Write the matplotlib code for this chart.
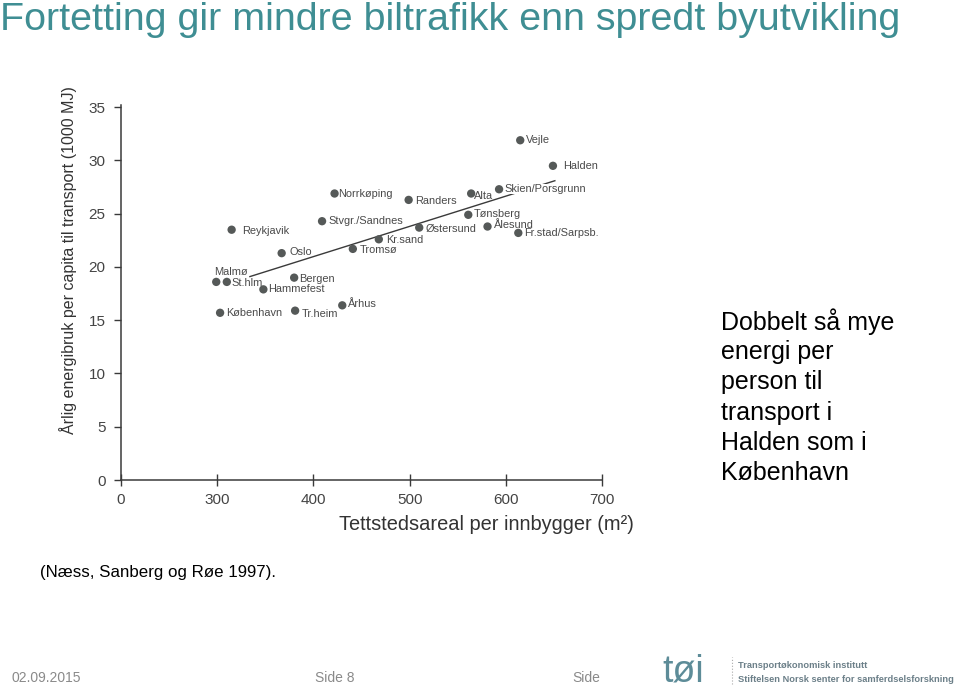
import matplotlib
matplotlib.use('Agg')
import matplotlib.pyplot as plt

plt.rcParams['font.family'] = ['Liberation Sans', 'DejaVu Sans']

# ── data ──────────────────────────────────────────────────────────────────────
cities = ['Vejle', 'Halden', 'Skien/Porsgrunn', 'Alta', 'Norrkøping', 'Randers',
          'Tønsberg', 'Stvgr./Sandnes', 'Reykjavik', 'Østersund', 'Ålesund',
          'Fr.stad/Sarpsb.', 'Kr.sand', 'Tromsø', 'Oslo', 'Malmø', 'St.hlm',
          'Bergen', 'Hammefest', 'Århus', 'København', 'Tr.heim']
areal = [615, 649, 593, 564, 422, 499, 561, 409, 315, 510, 581,
         613, 468, 441, 367, 299, 310, 380, 348, 430, 303, 381]
energi = [31.9, 29.5, 27.3, 26.9, 26.9, 26.3, 24.9, 24.3, 23.5, 23.7, 23.8,
          23.2, 22.6, 21.7, 21.3, 18.6, 18.6, 19.0, 17.9, 16.4, 15.7, 15.9]

trend_x = [334, 651]
trend_y = [19.1, 28.1]

x_ticks = [200, 300, 400, 500, 600, 700]          # axis is broken: 200 is shown as 0
x_ticklabels = ['0', '300', '400', '500', '600', '700']
y_ticks = [0, 5, 10, 15, 20, 25, 30, 35]

# ── styling ───────────────────────────────────────────────────────────────────
TEAL = '#3f8e93'
DOT = '#555958'
INK = '#3a3a3a'
FOOT = '#8a8a8a'
LOGO = '#5d8c98'

# label offsets in pixels (dx, dy) relative to each dot
offsets = {
    'Vejle': (6, 0), 'Halden': (10, 0), 'Skien/Porsgrunn': (5, 0),
    'Alta': (3, -2), 'Norrkøping': (4, 0), 'Randers': (6, -1),
    'Tønsberg': (5, 1), 'Stvgr./Sandnes': (6, 0), 'Reykjavik': (10, -1),
    'Østersund': (6, -1), 'Ålesund': (6, 2), 'Fr.stad/Sarpsb.': (6, 0),
    'Kr.sand': (7, -1), 'Tromsø': (7, -1), 'Oslo': (8, 1),
    'Malmø': (-2, 10), 'St.hlm': (5, -1), 'Bergen': (5, -1),
    'Hammefest': (5, 0), 'Århus': (6, 1), 'København': (6, 0),
    'Tr.heim': (7, -3),
}

fig = plt.figure(figsize=(9.6, 6.89), dpi=100)
fig.patch.set_facecolor('white')

ax = fig.add_axes([121 / 960, 1 - 480 / 689, 481 / 960, 0.5441])
ax.set_xlim(200, 700)
ax.set_ylim(0, 35.2)

ax.plot(trend_x, trend_y, color=INK, lw=1.0, zorder=1)
ax.scatter(areal, energi, s=36, color=DOT, edgecolor='none', zorder=3)

px2pt = 72 / 100
for name, x, y in zip(cities, areal, energi):
    dx, dy = offsets[name]
    kw = {}
    if name == 'Skien/Porsgrunn':
        kw['bbox'] = dict(facecolor='white', edgecolor='none', pad=0)
    ax.annotate(name, (x, y), xytext=(dx * px2pt, dy * px2pt),
                textcoords='offset points', ha='left', va='center',
                fontsize=7.9, color='#4a4a4a', zorder=2, **kw)

for s in ['top', 'right']:
    ax.spines[s].set_visible(False)
for s in ['left', 'bottom']:
    ax.spines[s].set_color(INK)
    ax.spines[s].set_linewidth(1.1)

ax.set_xticks(x_ticks)
ax.set_xticklabels(x_ticklabels)
ax.set_yticks(y_ticks)
ax.tick_params(axis='x', direction='inout', length=9, width=1, color=INK,
               labelsize=11, labelcolor='#444444', pad=5)
ax.tick_params(axis='y', direction='out', length=5, width=1, color=INK,
               labelsize=11, labelcolor='#444444', pad=6)

fig.text(68 / 960, 1 - 260 / 689,
         'Årlig energibruk per capita til transport (1000 MJ)',
         rotation=90, ha='center', va='center', fontsize=11.5, color='#333333')
fig.text(486 / 960, 1 - 525 / 689, 'Tettstedsareal per innbygger (m²)',
         ha='center', va='center', fontsize=14.4, color='#333333')

# ── slide elements ────────────────────────────────────────────────────────────
fig.text(0, 1 - 30 / 689,
         'Fortetting gir mindre biltrafikk enn spredt byutvikling',
         ha='left', va='baseline', fontsize=28.4, color=TEAL)

side_lines = ['Dobbelt så mye', 'energi per', 'person til', 'transport i',
              'Halden som i', 'København']
for i, line in enumerate(side_lines):
    fig.text(721 / 960, 1 - (322 + i * 30.2) / 689, line,
             ha='left', va='center', fontsize=18, color='black')

fig.text(40 / 960, 1 - 573 / 689, '(Næss, Sanberg og Røe 1997).',
         ha='left', va='center', fontsize=12.2, color='black')

fig.text(12 / 960, 1 - 678 / 689, '02.09.2015', ha='left', va='center',
         fontsize=10, color=FOOT)
fig.text(315 / 960, 1 - 678 / 689, 'Side 8', ha='left', va='center',
         fontsize=10, color=FOOT)
fig.text(572 / 960, 1 - 678 / 689, 'Side', ha='left', va='center',
         fontsize=10, color=FOOT)

fig.text(662 / 960, 1 - 681 / 689, 'tøi', ha='left', va='baseline',
         fontsize=27, color=LOGO)
fig.add_artist(plt.Line2D([732 / 960, 732 / 960], [1 - 684 / 689, 1 - 657 / 689],
                          color='#aaaaaa', lw=0.8, ls=':'))
fig.text(738 / 960, 1 - 666 / 689, 'Transportøkonomisk institutt',
         ha='left', va='center', fontsize=6.7, fontweight='bold', color='#6b7f88')
fig.text(738 / 960, 1 - 680 / 689, 'Stiftelsen Norsk senter for samferdselsforskning',
         ha='left', va='center', fontsize=6.7, fontweight='bold', color='#6b7f88')

fig.savefig('out.png', dpi=100, facecolor='white')
